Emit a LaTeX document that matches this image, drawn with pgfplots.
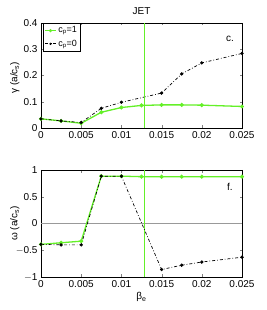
\documentclass[border=0pt]{standalone}
\usepackage{fontspec}
\setmainfont{Liberation Sans}
\usepackage{pgfplots}
\pgfplotsset{compat=1.18}
\definecolor{lgreen}{RGB}{100,240,40}
\begin{document}
\begin{tikzpicture}[x=1pt,y=1pt]
\useasboundingbox (0,0) rectangle (266,310);
\pgfplotsset{
  every axis/.style={
    scale only axis, width=201pt,
    xmin=0, xmax=0.025,
    xtick={0,0.005,0.01,0.015,0.02,0.025},
    scaled x ticks=false, scaled y ticks=false,
    /pgf/number format/assume math mode=true,
    /pgf/number format/fixed,
    /pgf/number format/precision=3,
    tick label style={font=\fontsize{10}{11}\selectfont},
    label style={font=\fontsize{10}{11}\selectfont},
    tick align=inside, tick pos=both,
    major tick length=2.5pt,
    axis line style={line width=0.5pt},
    clip=true,
  },
}
% ---------- top panel ----------
\begin{axis}[
  at={(41pt,182pt)}, anchor=south west, height=105pt,
  ymin=0, ymax=0.4, ytick={0,0.1,0.2,0.3,0.4},
  yticklabels={0,0.1,0.2,0.3,0.4},
  ylabel={γ (a/c\textsubscript{s})},
  ylabel style={at={(axis description cs:-0.13,0.48)}, anchor=center},
  title={JET}, title style={font=\fontsize{10}{11}\selectfont, yshift=-1pt},
  legend style={at={(axis description cs:0.01,1)}, anchor=north west,
    font=\fontsize{9}{10}\selectfont, inner sep=1.5pt, row sep=1.5pt,
    draw=black, line width=0.5pt},
  legend cell align=left,
  legend image post style={scale=0.6},
]
\addplot[lgreen, line width=1.3pt, mark=*, mark size=1.3pt] coordinates {
(0,0.035) (0.0025,0.027) (0.005,0.018) (0.0075,0.060) (0.01,0.078)
(0.0125,0.086) (0.015,0.088) (0.0175,0.088) (0.02,0.087) (0.025,0.082)};
\addlegendentry{c\textsubscript{p}=1}
\addplot[black, line width=0.7pt, dash dot, mark=*, mark size=1.3pt, mark options={solid}] coordinates {
(0,0.035) (0.0025,0.027) (0.005,0.021) (0.0075,0.075) (0.01,0.098)
(0.015,0.133) (0.0175,0.206) (0.02,0.248) (0.025,0.284)};
\addlegendentry{c\textsubscript{p}=0}
\draw[lgreen, line width=0.8pt] (axis cs:0.01285,0) -- (axis cs:0.01285,0.4);
\node[font=\fontsize{10}{11}\selectfont] at (axis description cs:0.94,0.85) {c.};
\end{axis}
% ---------- bottom panel ----------
\begin{axis}[
  at={(41pt,33pt)}, anchor=south west, height=107pt,
  ymin=-1, ymax=1, ytick={-1,-0.5,0,0.5,1},
  yticklabels={$-$1,$-$0.5,0,0.5,1},
  ylabel={ω (a/c\textsubscript{s})},
  ylabel style={at={(axis description cs:-0.13,0.5)}, anchor=center},
  xlabel={β\textsubscript{e}},
  xlabel style={yshift=2pt},
]
\draw[gray!80, line width=0.6pt] (axis cs:0,0) -- (axis cs:0.025,0);
\draw[lgreen, line width=0.8pt] (axis cs:0.01285,-1) -- (axis cs:0.01285,1);
\addplot[lgreen, line width=1.3pt, mark=*, mark size=1.3pt] coordinates {
(0,-0.39) (0.0025,-0.36) (0.005,-0.33) (0.0075,0.885) (0.01,0.885)
(0.0125,0.875) (0.015,0.875) (0.0175,0.875) (0.02,0.875) (0.025,0.875)};
\addplot[black, line width=0.7pt, dash dot, mark=*, mark size=1.3pt, mark options={solid}] coordinates {
(0,-0.39) (0.0025,-0.40) (0.005,-0.40) (0.0075,0.885) (0.01,0.885)
(0.015,-0.86) (0.0175,-0.78) (0.02,-0.72) (0.025,-0.63)};
\node[font=\fontsize{10}{11}\selectfont] at (axis description cs:0.94,0.84) {f.};
\end{axis}
\end{tikzpicture}
\end{document}
